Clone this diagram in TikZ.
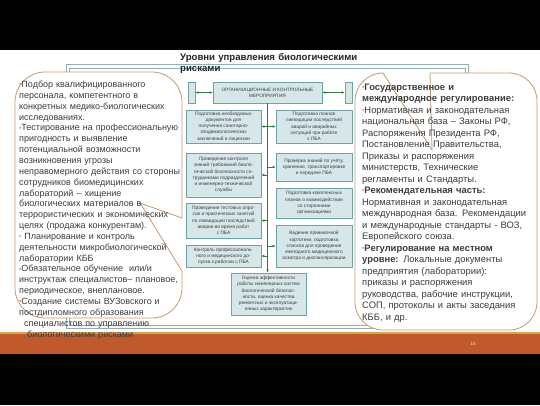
\documentclass[tikz,border=0pt]{standalone}
\usepackage{fontspec}
\setmainfont{Liberation Sans}
\usetikzlibrary{arrows.meta}
\definecolor{txt}{HTML}{3C3C3C}
\definecolor{bulc}{HTML}{D2782E}
\definecolor{callb}{HTML}{C49A6C}
\definecolor{boxf}{HTML}{D6E7E9}
\definecolor{boxd}{HTML}{6FA3A8}
\definecolor{arr}{HTML}{2E7D3A}
\definecolor{frm}{HTML}{8FAFB0}
\definecolor{band}{HTML}{C05A2C}
\definecolor{bandl}{HTML}{E4A040}
\newcommand{\bul}{{\color{bulc}\fontsize{6.5}{6.5}\selectfont\raisebox{0.8pt}{•}}}
\begin{document}
\begin{tikzpicture}[x=1pt,y=-1pt,
  mbox/.style={draw=boxd, fill=boxf, line width=0.6pt, inner sep=0.5pt, align=center,
    font=\fontsize{4.8}{6.2}\selectfont, text=txt},
  conn/.style={draw=arr, line width=0.6pt},
  tipr/.style={-{Latex[length=3pt,width=2.6pt]}},
  tipb/.style={{Latex[length=3pt,width=2.6pt]}-{Latex[length=3pt,width=2.6pt]}},
  ltext/.style={anchor=base west, inner sep=0pt, text width=175pt, align=left,
    font=\fontsize{9.0}{10.85}\selectfont, text=txt},
  rtext/.style={anchor=base west, inner sep=0pt, text width=180pt, align=left,
    font=\fontsize{9.4}{11.5}\selectfont, text=txt},
  call/.style={draw=callb, line width=0.8pt}
]
\useasboundingbox (0,0) rectangle (540,405);
% background
\fill[white] (0,0) rectangle (540,405);
\fill[black] (0,0) rectangle (540,50);
\fill[black] (0,354) rectangle (540,405);
\fill[bandl] (0,332) rectangle (540,334);
\fill[band] (0,334) rectangle (540,354);
\node[font=\fontsize{4.5}{5}\selectfont, text=white!85!orange] (pg) at (473,344) {10};
% frame
\draw[frm, line width=0.7pt] (66,64) rectangle (468,328);
\draw[frm, line width=0.5pt] (69,68) rectangle (465,325);
% title
\node[anchor=base west, inner sep=0pt, text width=220pt, align=left, font=\bfseries\fontsize{9.6}{10.6}\selectfont, text=black!85] (title) at (180,60.5) {Уровни управления биологическими\\рисками};
% diagram boxes
\node[mbox, minimum width=109pt, minimum height=21pt, font=\fontsize{4.7}{6}\selectfont] (T) at (267.5,92.5) {ОРГАНИЗАЦИОННЫЕ И КОНТРОЛЬНЫЕ\\МЕРОПРИЯТИЯ};
\node[mbox, minimum width=7pt, minimum height=21pt] (bL) at (191.5,92.5) {};
\node[mbox, minimum width=7pt, minimum height=21pt] (bR) at (348.5,92.5) {};
\node[mbox, minimum width=75pt, minimum height=33pt] (L1) at (223.5,126.5) {Подготовка необходимых\\документов для\\получения санитарно-\\эпидемиологических\\заключений и лицензии};
\node[mbox, minimum width=76pt, minimum height=33pt] (R1) at (314,126.5) {Подготовка планов\\ликвидации последствий\\аварий и аварийных\\ситуаций при работе\\с ПБА};
\node[mbox, minimum width=75pt, minimum height=44pt] (L2) at (223.5,175) {Проведение контроля\\знаний требований биоло-\\гической безопасности со-\\трудниками подразделений\\и инженерно-технической\\службы};
\node[mbox, minimum width=76pt, minimum height=28pt] (R2) at (314,167) {Проверка знаний по учёту,\\хранению, транспортировке\\и передаче ПБА};
\node[mbox, minimum width=76pt, minimum height=30pt] (R3) at (314,203) {Подготовка комплексных\\планов о взаимодействии\\со сторонними\\организациями};
\node[mbox, minimum width=75pt, minimum height=35pt] (L3) at (223.5,220.5) {Проведение тестовых опро-\\сов и практических занятий\\по ликвидации последствий\\аварии во время работ\\с ПБА};
\node[mbox, minimum width=76pt, minimum height=42pt] (R4) at (314,246) {Ведение прививочной\\картотеки, подготовка\\списков для проведения\\ежегодного медицинского\\осмотра и диспансеризации};
\node[mbox, minimum width=75pt, minimum height=22pt] (L4) at (223.5,256) {Контроль профессиональ-\\ного и медицинского до-\\пуска к работам с ПБА};
\node[mbox, minimum width=75pt, minimum height=42pt] (B) at (268.5,294) {Оценка эффективности\\работы инженерных систем\\биологической безопас-\\ности, оценка качества\\ремонтных и эксплуатаци-\\онных характеристик};
% connectors
\draw[conn, tipb] (bL.east) -- (T.west);
\draw[conn, tipb] (T.east) -- (bR.west);
\draw[conn, tipr] (T.south) -- (T.south |- B.north);
\draw[conn, tipr] (T.south |- L1.east) -- (L1.east);
\draw[conn, tipr] (T.south |- R1.west) -- (R1.west);
\draw[conn, tipr] (T.south |- L2.east) -- (L2.east);
\draw[conn, tipr] (T.south |- R2.west) -- (R2.west);
\draw[conn, tipr] (T.south |- L3.east) -- (L3.east);
\draw[conn, tipr] (T.south |- R4.west) -- (R4.west);
\draw[conn, tipr] (T.south |- L4.east) -- (L4.east);
% left callout
\fill[white, rounded corners=30pt] (15,72) rectangle (182,318);
\draw[call, rounded corners=30pt] (182,218) -- (182,72) -- (15,72) -- (15,318) -- (182,318) -- (182,271);
\draw[call] (182,218) -- (140,203) -- (182,271);
% right callout
\fill[white, rounded corners=28pt] (355,73) rectangle (537,330);
\draw[call, rounded corners=28pt] (383,73) -- (355,73) -- (355,330) -- (537,330) -- (537,73) -- (430,73);
\draw[call] (383,73) -- (432,150) -- (430,73);
% callout texts
\node[ltext] (lt) at (19,87.5) {\bul Подбор квалифицированного\\
персонала, компетентного в\\
конкретных медико-биологических\\
исследованиях.\\
\bul Тестирование на профессиональную\\
пригодность и выявление\\
потенциальной возможности\\
возникновения угрозы\\
неправомерного действия со стороны\\
сотрудников биомедицинских\\
лабораторий – хищение\\
биологических материалов в\\
террористических и экономических\\
целях (продажа конкурентам).\\
\bul{} Планирование и контроль\\
деятельности микробиологической\\
лаборатории КББ\\
\bul Обязательное обучение\ \ или/и\\
инструктаж специалистов– плановое,\\
периодическое, внеплановое.\\
\bul Создание системы ВУЗовского и\\
постдипломного образования\\
\hspace*{5pt}специалистов по управлению\\
\hspace*{8pt}биологическими рисками};
\node[rtext] (rt) at (362,90) {\bul\textbf{Государственное и}\\
\textbf{международное регулирование:}\\
\bul Нормативная и законодательная\\
национальная база – Законы РФ,\\
Распоряжения Президента РФ,\\
Постановление Правительства,\\
Приказы и распоряжения\\
министерств, Технические\\
регламенты и Стандарты.\\
\bul\textbf{Рекомендательная часть:}\\
Нормативная и законодательная\\
международная база. Рекомендации\\
и международные стандарты - ВОЗ,\\
Европейского союза.\\
\bul\textbf{Регулирование на местном}\\
\textbf{уровне:} Локальные документы\\
предприятия (лаборатории):\\
приказы и распоряжения\\
руководства, рабочие инструкции,\\
СОП, протоколы и акты заседания\\
КББ, и др.};
\end{tikzpicture}
\end{document}
